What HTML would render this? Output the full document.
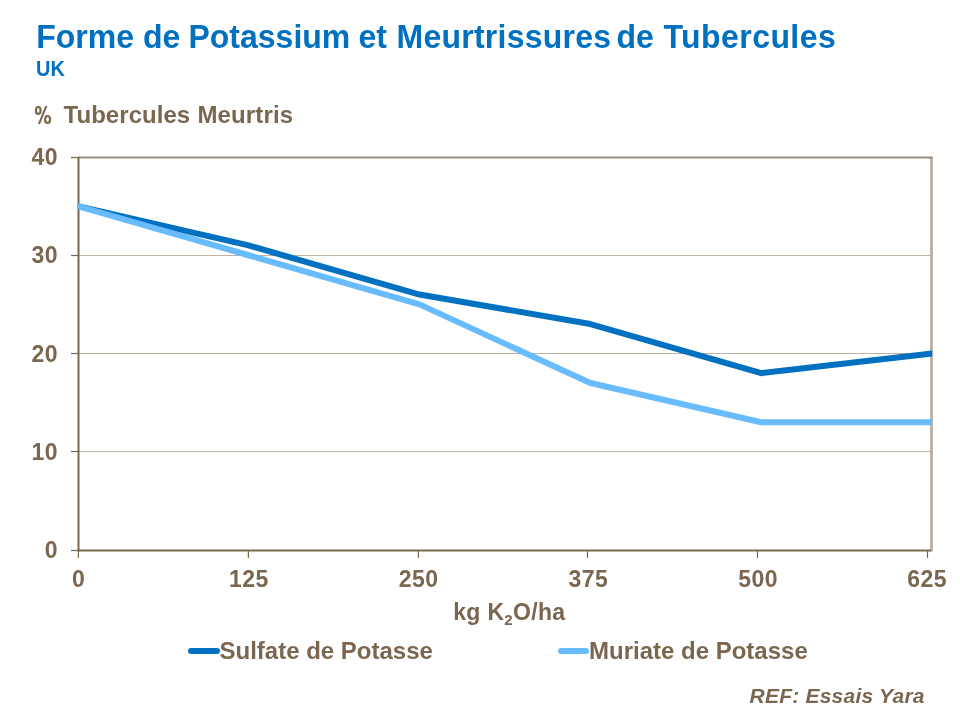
<!DOCTYPE html>
<html><head><meta charset="utf-8">
<style>
html,body{margin:0;padding:0;background:#fff;width:960px;height:720px;overflow:hidden}
svg{position:absolute;left:0;top:0;display:block;will-change:transform}
text{font-family:"Liberation Sans",sans-serif;font-weight:bold}
.b{fill:#7B6650}
</style></head><body>
<svg width="960" height="720" viewBox="0 0 960 720">
<!-- title -->
<g font-size="32" fill="#0070C0" transform="translate(0,48.4) scale(1,1.03) translate(0,-48)">
<text x="36.3" y="48">Forme</text>
<text x="143" y="48">de</text>
<text x="188.5" y="48">Potassium</text>
<text x="358.5" y="48">et</text>
<text x="396.5" y="48" letter-spacing="0.25">Meurtrissures</text>
<text x="616.5" y="48">de</text>
<text x="663.5" y="48" letter-spacing="0.44">Tubercules</text>
</g>
<text transform="translate(36,76) scale(1,1.07)" font-size="20" fill="#0070C0">UK</text>
<g fill="none" stroke="#7B6650" stroke-width="2.2">
<ellipse cx="38.25" cy="110.4" rx="2.32" ry="3.42"/>
<ellipse cx="47.58" cy="119.5" rx="2.45" ry="3.5"/>
</g>
<polygon points="45.2,106 47.4,106 40.1,123.9 37.9,123.9" fill="#7B6650"/>
<text x="63.5" y="123" font-size="24" class="b" letter-spacing="0.05">Tubercules</text>
<text x="197.5" y="123" font-size="24" class="b" letter-spacing="0.12">Meurtris</text>
<!-- gridlines -->
<g stroke="#BFB3A6" stroke-width="1">
<line x1="79" y1="255.5" x2="931" y2="255.5"/>
<line x1="79" y1="353.5" x2="931" y2="353.5"/>
<line x1="79" y1="451.5" x2="931" y2="451.5"/>
</g>
<!-- border top/right -->
<line x1="931.5" y1="157" x2="931.5" y2="551.5" stroke="#BBB0A6" stroke-width="2.9"/>
<line x1="78" y1="157.5" x2="932.7" y2="157.5" stroke="#9D8C7B" stroke-width="2"/>
<!-- axes -->
<g stroke="#7B6650" fill="none">
<line x1="78.5" y1="157" x2="78.5" y2="551.5" stroke-width="2"/>
<line x1="77.5" y1="550.5" x2="931" y2="550.5" stroke-width="2"/>
<g stroke-width="1.2">
<line x1="71" y1="157.5" x2="78" y2="157.5"/>
<line x1="71" y1="255.5" x2="78" y2="255.5"/>
<line x1="71" y1="353.5" x2="78" y2="353.5"/>
<line x1="71" y1="451.5" x2="78" y2="451.5"/>
<line x1="71" y1="550.5" x2="78" y2="550.5"/>
<line x1="78.4" y1="551" x2="78.4" y2="557.5" stroke-linecap="round"/>
<line x1="248.4" y1="551" x2="248.4" y2="557.5" stroke-linecap="round"/>
<line x1="418.4" y1="551" x2="418.4" y2="557.5" stroke-linecap="round"/>
<line x1="587.5" y1="551" x2="587.5" y2="557.5" stroke-linecap="round"/>
<line x1="757.5" y1="551" x2="757.5" y2="557.5" stroke-linecap="round"/>
<line x1="927.5" y1="551" x2="927.5" y2="557.5" stroke-linecap="round"/>
</g>
</g>
<!-- series -->
<defs><clipPath id="pc"><rect x="77.75" y="100" width="854.35" height="500"/></clipPath></defs>
<g fill="none" stroke-width="6" stroke-linejoin="round" stroke-linecap="butt" clip-path="url(#pc)">
<polyline stroke="#0070C0" points="71.75,204.75 77.75,206.12 248.62,245.43 419.49,294.55 590.36,324.02 761.23,373.15 932.10,353.50 938.10,352.81"/>
<polyline stroke="#68BCFE" points="71.75,204.40 77.75,206.12 248.62,255.25 419.49,304.38 590.36,382.98 761.23,422.27 932.10,422.27 938.10,422.27"/>
</g>
<!-- y labels -->
<g font-size="23" class="b" text-anchor="end" letter-spacing="0.5">
<text x="58" y="165">40</text>
<text x="58" y="263">30</text>
<text x="58" y="361.5">20</text>
<text x="58" y="459.5">10</text>
<text x="58" y="558">0</text>
</g>
<!-- x labels -->
<g font-size="23" class="b" text-anchor="middle" letter-spacing="0.5">
<text x="78.6" y="587">0</text>
<text x="248.9" y="587">125</text>
<text x="418.7" y="587">250</text>
<text x="588.4" y="587">375</text>
<text x="758.2" y="587">500</text>
<text x="927.2" y="587">625</text>
</g>
<text x="453.2" y="620" font-size="23" class="b" letter-spacing="0.33">kg K<tspan font-size="15" dy="5">2</tspan><tspan dy="-5">O/ha</tspan></text>
<!-- legend -->
<g stroke-width="6" stroke-linecap="round">
<line x1="191" y1="651" x2="217" y2="651" stroke="#0070C0"/>
<line x1="561" y1="651" x2="586" y2="651" stroke="#68BCFE"/>
</g>
<text x="219.5" y="659" font-size="24" class="b">Sulfate de Potasse</text>
<text x="589" y="659" font-size="24" class="b">Muriate de Potasse</text>
<text x="749.5" y="703" font-size="21" font-style="italic" letter-spacing="0.23" class="b">REF: Essais Yara</text>
</svg>
</body></html>
